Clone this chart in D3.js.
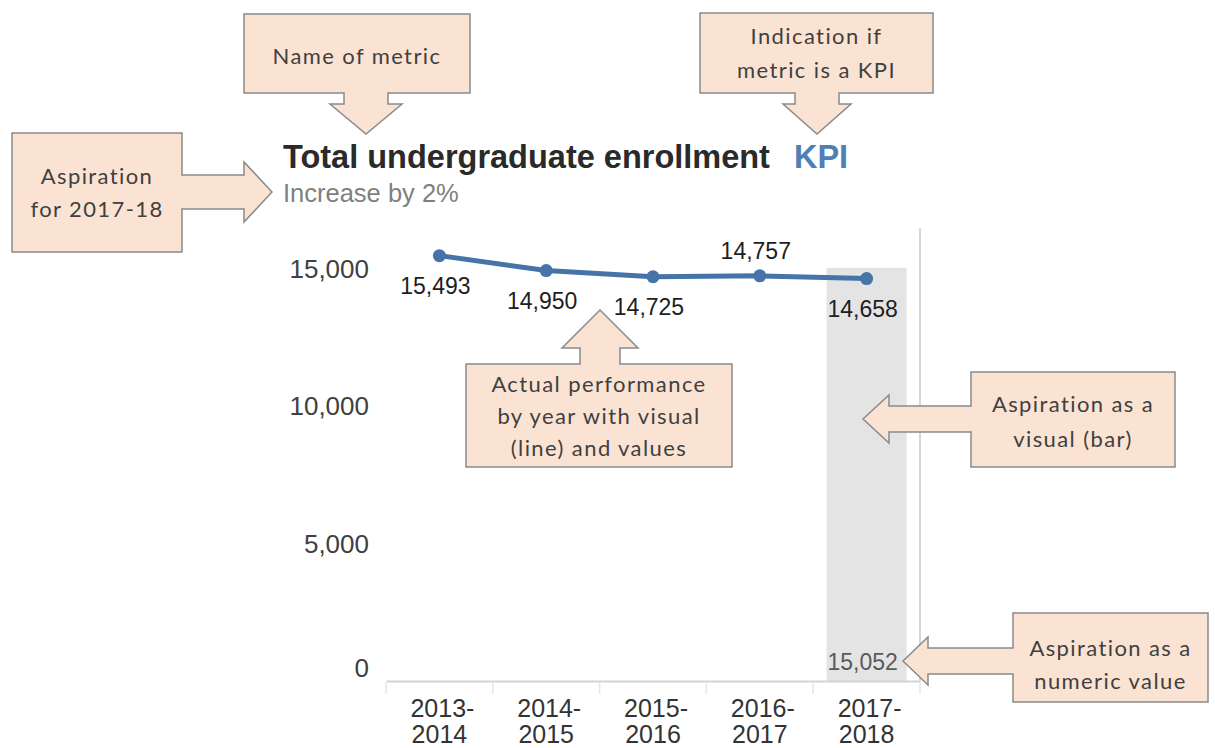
<!DOCTYPE html>
<html>
<head>
<meta charset="utf-8">
<script src="https://cdn.jsdelivr.net/npm/d3@7"></script>
<style>
  body { margin: 0; background: #fff; }
  svg { display: block; }
</style>
</head>
<body>
<div id="root"></div>
<script>
// chart values
const years = ["2013-2014", "2014-2015", "2015-2016", "2016-2017", "2017-2018"];
const enrollment = [15493, 14950, 14725, 14757, 14658];
const labelSide = ["below", "below", "below", "above", "below"];
const aspirationYear = "2017-2018";
const aspirationValue = 15052;
const yTicks = [0, 5000, 10000, 15000];

const width = 1215, height = 748;
const chartFont = "'Liberation Sans', Arial, sans-serif";
const noteFont = "Lato, 'Open Sans', sans-serif";

const svg = d3.create("svg").attr("width", width).attr("height", height);

const x = d3.scaleBand().domain(years).range([386, 920]);
const y = d3.scaleLinear().domain([0, 16500]).range([681, 228]);
const bw = x.bandwidth();

// aspiration bar
svg.append("rect")
  .attr("x", x(aspirationYear) + bw * 0.125)
  .attr("width", bw * 0.75)
  .attr("y", y(aspirationValue))
  .attr("height", y(0) - y(aspirationValue))
  .attr("fill", "#e4e4e4");

svg.append("text")
  .attr("x", x(aspirationYear) + bw / 2 - 4)
  .attr("y", y(0) - 19)
  .attr("text-anchor", "middle")
  .attr("dominant-baseline", "central")
  .attr("font-family", chartFont)
  .attr("font-size", 23)
  .attr("fill", "#595959")
  .text(d3.format(",")(aspirationValue));

// right border line
svg.append("line")
  .attr("x1", x.range()[1]).attr("x2", x.range()[1])
  .attr("y1", y.range()[1]).attr("y2", y(0))
  .attr("stroke", "#c8c8c8").attr("stroke-width", 1.5);

// y axis
const yAxis = svg.append("g")
  .attr("transform", `translate(${x.range()[0]},0)`)
  .call(d3.axisLeft(y).tickValues(yTicks).tickSize(0).tickPadding(17).tickFormat(d3.format(",")));
yAxis.select(".domain").remove();
yAxis.selectAll("text")
  .attr("font-family", chartFont)
  .attr("font-size", 26)
  .attr("fill", "#404040")
  .attr("transform", (d) => (d === 0 ? "translate(0,-13)" : null));

// x axis
const xAxis = svg.append("g")
  .attr("transform", `translate(0,${y(0)})`)
  .call(d3.axisBottom(x).tickSize(0).tickPadding(0));
xAxis.select(".domain").attr("stroke", "#d4d4d4").attr("stroke-width", 2);
xAxis.selectAll("text").each(function (d) {
  const t = d3.select(this).text(null).attr("dy", null).attr("y", null)
    .attr("font-family", chartFont)
    .attr("font-size", 25)
    .attr("fill", "#333");
  const parts = d.split("-");
  t.append("tspan").attr("x", 3).attr("y", 36).text(parts[0] + "-");
  t.append("tspan").attr("x", 0).attr("y", 62).text(parts[1]);
});
xAxis.selectAll(".bound")
  .data(years.map((d) => x(d)).concat([x.range()[1]]))
  .join("line")
  .attr("x1", (d) => d).attr("x2", (d) => d)
  .attr("y1", 1).attr("y2", 13)
  .attr("stroke", "#e6e6e6").attr("stroke-width", 1.5);

// actual line
const pts = years.map((yr, i) => ({ year: yr, value: enrollment[i], side: labelSide[i], i }));
const cx = (d) => x(d.year) + bw / 2;

svg.append("path")
  .datum(pts)
  .attr("fill", "none")
  .attr("stroke", "#4673a8")
  .attr("stroke-width", 5)
  .attr("stroke-linecap", "round")
  .attr("d", d3.line().x(cx).y((d) => y(d.value)));

svg.append("g")
  .selectAll("circle")
  .data(pts)
  .join("circle")
  .attr("cx", cx)
  .attr("cy", (d) => y(d.value))
  .attr("r", 6.5)
  .attr("fill", "#4673a8");

svg.append("g")
  .selectAll("text")
  .data(pts)
  .join("text")
  .attr("x", (d) => cx(d) - 4)
  .attr("y", (d) => y(d.value) + (d.side === "above" ? -25 : 30))
  .attr("text-anchor", "middle")
  .attr("dominant-baseline", "central")
  .attr("font-family", chartFont)
  .attr("font-size", 23)
  .attr("fill", "#1e1e1e")
  .text((d) => d3.format(",")(d.value));

// title
const title = svg.append("text")
  .attr("x", 283).attr("y", 168)
  .attr("font-family", chartFont)
  .attr("font-weight", "bold")
  .attr("font-size", 32.5);
title.append("tspan").attr("fill", "#2a2a2a").text("Total undergraduate enrollment");
title.append("tspan").attr("fill", "#4f7fb7").attr("dx", 24).text("KPI");

svg.append("text")
  .attr("x", 283).attr("y", 202)
  .attr("font-family", chartFont)
  .attr("font-size", 25.5)
  .attr("fill", "#7f7f7f")
  .text("Increase by 2%");

// callout annotations
const notes = [
  { box: [244, 14, 470, 93], dir: "down", c: 366, sw: 22, hw: 36, base: 104, tip: 134,
    lines: ["Name of metric"], ly: [55] },
  { box: [700, 13, 933, 93], dir: "down", c: 817, sw: 22, hw: 34, base: 104, tip: 134,
    lines: ["Indication if", "metric is a KPI"], ly: [35, 69] },
  { box: [12, 133, 182, 252], dir: "right", c: 192, sw: 17, hw: 30, base: 244, tip: 272,
    lines: ["Aspiration", "for 2017-18"], ly: [175, 208] },
  { box: [466, 364, 732, 467], dir: "up", c: 600, sw: 20, hw: 38, base: 348, tip: 310,
    lines: ["Actual performance", "by year with visual", "(line) and values"], ly: [383, 415, 447] },
  { box: [971, 372, 1175, 467], dir: "left", c: 419, sw: 13, hw: 24, base: 889, tip: 863,
    lines: ["Aspiration as a", "visual (bar)"], ly: [403, 438] },
  { box: [1013, 613, 1208, 702], dir: "left", c: 661, sw: 13, hw: 24, base: 928, tip: 903,
    lines: ["Aspiration as a", "numeric value"], ly: [647, 680] },
];

function calloutPath(n) {
  const [x0, y0, x1, y1] = n.box;
  const p = d3.path();
  const { c, sw, hw, base, tip } = n;
  if (n.dir === "down") {
    p.moveTo(x0, y0); p.lineTo(x1, y0); p.lineTo(x1, y1);
    p.lineTo(c + sw, y1); p.lineTo(c + sw, base); p.lineTo(c + hw, base);
    p.lineTo(c, tip); p.lineTo(c - hw, base); p.lineTo(c - sw, base);
    p.lineTo(c - sw, y1); p.lineTo(x0, y1);
  } else if (n.dir === "up") {
    p.moveTo(x0, y1); p.lineTo(x1, y1); p.lineTo(x1, y0);
    p.lineTo(c + sw, y0); p.lineTo(c + sw, base); p.lineTo(c + hw, base);
    p.lineTo(c, tip); p.lineTo(c - hw, base); p.lineTo(c - sw, base);
    p.lineTo(c - sw, y0); p.lineTo(x0, y0);
  } else if (n.dir === "right") {
    p.moveTo(x0, y0); p.lineTo(x1, y0); p.lineTo(x1, c - sw);
    p.lineTo(base, c - sw); p.lineTo(base, c - hw); p.lineTo(tip, c);
    p.lineTo(base, c + hw); p.lineTo(base, c + sw); p.lineTo(x1, c + sw);
    p.lineTo(x1, y1); p.lineTo(x0, y1);
  } else {
    p.moveTo(x1, y0); p.lineTo(x0, y0); p.lineTo(x0, c - sw);
    p.lineTo(base, c - sw); p.lineTo(base, c - hw); p.lineTo(tip, c);
    p.lineTo(base, c + hw); p.lineTo(base, c + sw); p.lineTo(x0, c + sw);
    p.lineTo(x0, y1); p.lineTo(x1, y1);
  }
  p.closePath();
  return p.toString();
}

const note = svg.append("g").selectAll("g").data(notes).join("g");
note.append("path")
  .attr("d", calloutPath)
  .attr("fill", "#fbe3d4")
  .attr("stroke", "#8a8a8a")
  .attr("stroke-width", 1.5);
note.each(function (n) {
  const g = d3.select(this);
  n.lines.forEach((ln, i) => {
    g.append("text")
      .attr("x", (n.box[0] + n.box[2]) / 2)
      .attr("y", n.ly[i])
      .attr("text-anchor", "middle")
      .attr("dominant-baseline", "central")
      .attr("font-family", noteFont)
      .attr("font-size", 22)
      .attr("letter-spacing", 1.4)
      .attr("fill", "#404040")
      .text(ln);
  });
});

d3.select("#root").append(() => svg.node());
</script>
</body>
</html>
